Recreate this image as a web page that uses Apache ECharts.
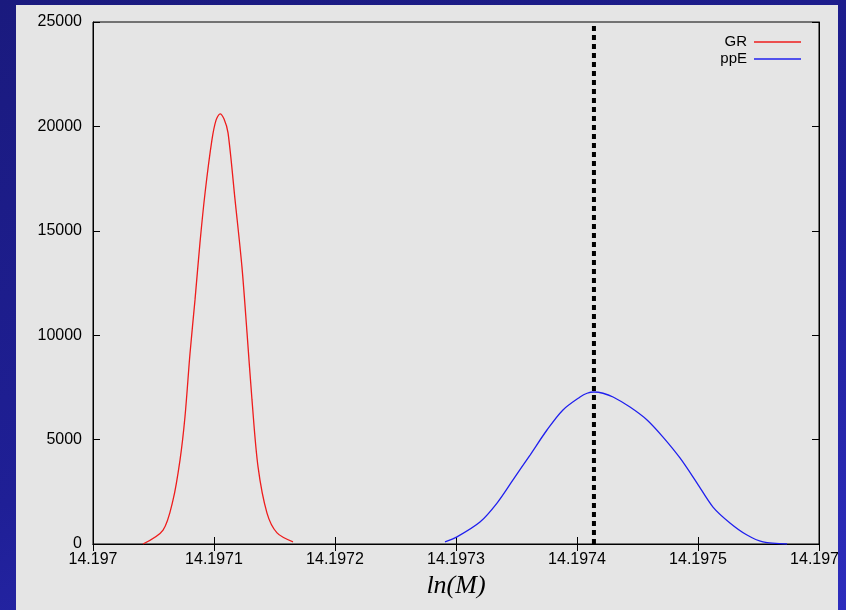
<!DOCTYPE html>
<html>
<head>
<meta charset="utf-8">
<script src="https://cdn.jsdelivr.net/npm/echarts@6/dist/echarts.min.js"></script>
<style>
  html, body {
    margin: 0;
    width: 846px;
    height: 610px;
    overflow: hidden;
    background: linear-gradient(160deg, #1a1a7e 0%, #1f1f96 55%, #2d2dbd 100%);
  }
  #chart {
    position: absolute;
    left: 16px;
    top: 5px;
    width: 822px;
    height: 605px;
    background: #e5e5e5;
  }
</style>
</head>
<body>
<div id="chart"></div>
<script>
// GR posterior
const grX = [14.1970413, 14.1970579, 14.1970661, 14.1970719, 14.1970760, 14.1970802, 14.1970843,
  14.1970884, 14.1970926, 14.1970983, 14.1971017, 14.1971050, 14.1971083, 14.1971116, 14.1971174,
  14.1971231, 14.1971273, 14.1971314, 14.1971364, 14.1971438, 14.1971521, 14.1971653];
const grY = [0, 670, 2100, 4020, 6080, 9150, 11690, 14420, 16810, 19350, 20300, 20600, 20350,
  19690, 16480, 13270, 10110, 6900, 3690, 1480, 530, 100];

// ppE posterior
const ppeX = [14.1972909, 14.1973008, 14.1973198, 14.1973339, 14.1973471, 14.1973612, 14.1973752,
  14.1973884, 14.1974025, 14.1974083, 14.1974140, 14.1974215, 14.1974298, 14.1974438, 14.1974579,
  14.1974711, 14.1974851, 14.1974992, 14.1975124, 14.1975264, 14.1975405, 14.1975537, 14.1975736];
const ppeY = [100, 340, 1050, 1960, 3070, 4260, 5460, 6420, 7040, 7220, 7280, 7220, 7040, 6560,
  5940, 5120, 4120, 2920, 1770, 1010, 430, 100, 0];

// injected value (dashed line)
const trueLnM = 14.197414;

const xTicks = ['14.197', '14.1971', '14.1972', '14.1973', '14.1974', '14.1975', '14.1976'];
const yTicks = [0, 5000, 10000, 15000, 20000, 25000];

const grData = grX.map((x, i) => [x, grY[i]]);
const ppeData = ppeX.map((x, i) => [x, ppeY[i]]);

let chart = echarts.init(document.getElementById('chart'));

const labelFont = { color: '#000', fontSize: 16, fontFamily: 'Liberation Sans, Arial, sans-serif' };

let option = {
  animation: false,
  backgroundColor: '#e5e5e5',
  grid: {
    left: 77, right: 19, top: 17, bottom: 66,
    outerBoundsMode: 'none',
    containLabel: false,
    show: true,
    backgroundColor: '#e5e5e5',
    borderColor: '#000',
    borderWidth: 1
  },
  legend: {
    orient: 'vertical',
    right: 32,
    top: 24,
    align: 'right',
    icon: 'rect',
    itemWidth: 47,
    itemHeight: 1.5,
    itemGap: 1,
    textStyle: { color: '#000', fontSize: 15, lineHeight: 16, fontFamily: 'Liberation Sans, Arial, sans-serif', padding: [0, 2, 0, 0] },
    data: ['GR', 'ppE']
  },
  xAxis: [
    {
      type: 'value',
      min: 14.197,
      max: 14.1976,
      interval: 0.0001,
      name: 'ln(M)',
      nameLocation: 'middle',
      nameGap: 29,
      nameTextStyle: { fontFamily: 'Liberation Serif, Times New Roman, serif', fontStyle: 'italic', fontSize: 26, color: '#000' },
      axisLine: { show: true, lineStyle: { color: '#000', width: 1 } },
      axisTick: { show: true, inside: true, length: 7, lineStyle: { color: '#000' } },
      axisLabel: Object.assign({ margin: 8, showMaxLabel: true, hideOverlap: false,
        formatter: v => xTicks[Math.round((v - 14.197) / 0.0001)] }, labelFont),
      splitLine: { show: false }
    },
    {
      type: 'value',
      position: 'top',
      min: 14.197,
      max: 14.1976,
      interval: 0.0001,
      axisLine: { show: true, lineStyle: { color: '#000' } },
      axisTick: { show: true, inside: true, length: 7, lineStyle: { color: '#000' } },
      axisLabel: { show: false },
      splitLine: { show: false }
    }
  ],
  yAxis: [
    {
      type: 'value',
      min: 0,
      max: 25000,
      interval: 5000,
      axisLine: { show: true, lineStyle: { color: '#000' } },
      axisTick: { show: true, inside: true, length: 7, lineStyle: { color: '#000' } },
      axisLabel: Object.assign({ margin: 11, formatter: v => String(yTicks[Math.round(v / 5000)]) }, labelFont),
      splitLine: { show: false }
    },
    {
      type: 'value',
      position: 'right',
      min: 0,
      max: 25000,
      interval: 5000,
      axisLine: { show: true, lineStyle: { color: '#000' } },
      axisTick: { show: true, inside: true, length: 7, lineStyle: { color: '#000' } },
      axisLabel: { show: false },
      splitLine: { show: false }
    }
  ],
  series: [
    {
      name: 'GR',
      type: 'line',
      data: grData,
      smooth: 0.3,
      showSymbol: false,
      color: '#ee1c1c',
      lineStyle: { color: '#ee1c1c', width: 1.3 }
    },
    {
      name: 'ppE',
      type: 'line',
      data: ppeData,
      smooth: 0.3,
      showSymbol: false,
      color: '#2020ee',
      lineStyle: { color: '#2020ee', width: 1.3 }
    },
    {
      name: 'true',
      type: 'line',
      data: [[trueLnM, 0], [trueLnM, 25000]],
      showSymbol: false,
      silent: true,
      z: 3,
      lineStyle: { color: '#000', width: 4, type: [5, 4] }
    }
  ]
};

chart.setOption(option);
</script>
</body>
</html>
